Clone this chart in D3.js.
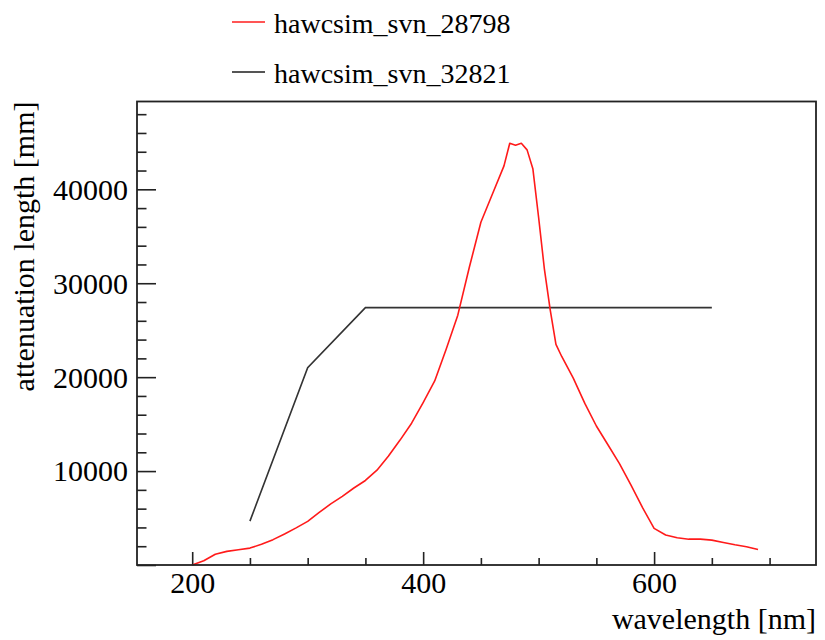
<!DOCTYPE html>
<html><head><meta charset="utf-8">
<script src="https://cdn.jsdelivr.net/npm/d3@7"></script>
<style>body{margin:0;background:#fff}svg{display:block}text{font-family:"Liberation Serif","Times New Roman",serif;fill:#000}</style>
</head><body>
<svg id="c" width="825" height="640"></svg>
<script>
const seriesNames = ["hawcsim_svn_28798", "hawcsim_svn_32821"];
const redWavelength = [200,210,220,230,240,250,260,270,280,290,300,310,320,330,340,350,360,370,380,390,400,410,420,430,440,450,460,470,475,480,485,490,495,500,505,510,515,520,530,540,550,560,570,580,590,600,610,620,630,640,650,660,670,680,690];
const redAtten = [0,450,1150,1450,1620,1800,2200,2700,3300,3950,4650,5600,6500,7300,8200,9000,10100,11600,13300,15100,17300,19600,23000,26600,31700,36500,39500,42500,44900,44700,44900,44200,42200,37000,31500,27200,23500,22200,19900,17200,14800,12800,10800,8500,6100,3900,3200,2900,2750,2750,2650,2400,2150,1950,1650];
const blackWavelength = [250,300,350,650];
const blackAtten = [4670,21000,27400,27400];
const xMajorTicks = [200,400,600];
const xMinorTicks = [250,300,350,450,500,550,650,700];
const yMajorTicks = [0,10000,20000,30000,40000];
const yMinorTicks = [2000,4000,6000,8000,12000,14000,16000,18000,22000,24000,26000,28000,32000,34000,36000,38000,42000,44000,46000,48000];
const yTickLabels = ["", "10000", "20000", "30000", "40000"];
const xLabel = "wavelength [nm]";
const yLabel = "attenuation length [mm]";

const svg = d3.select("#c");
const L = 137, R = 816, T = 101.5, B = 565;
const x = d3.scaleLinear().domain([152.2, 740.2]).range([L, R]);
const y = d3.scaleLinear().domain([0, 49350]).range([B, T]);

const fs = 30;
// axes
const gx = svg.append("g").attr("transform", `translate(0,${B})`)
  .call(d3.axisBottom(x).tickValues(xMajorTicks).tickSize(-13).tickPadding(7).tickFormat(d3.format("d")));
const gxm = svg.append("g").attr("transform", `translate(0,${B})`)
  .call(d3.axisBottom(x).tickValues(xMinorTicks).tickSize(-7).tickFormat(""));
const gy = svg.append("g").attr("transform", `translate(${L},0)`)
  .call(d3.axisLeft(y).tickValues(yMajorTicks).tickSize(-19).tickPadding(9).tickFormat((d,i)=>yTickLabels[i]));
const gym = svg.append("g").attr("transform", `translate(${L},0)`)
  .call(d3.axisLeft(y).tickValues(yMinorTicks).tickSize(-9.5).tickFormat(""));
[gx,gxm,gy,gym].forEach(g=>{
  g.select(".domain").remove();
  g.selectAll("line").attr("stroke","#222").attr("stroke-width",1.6);
  g.selectAll("text").style("font-size",fs+"px").attr("fill","#000");
});
gy.selectAll("text").attr("dy","0.33em");

// lines
const line = d3.line().x(d=>x(d[0])).y(d=>y(d[1]));
const blackData = blackWavelength.map((w,i)=>[w,blackAtten[i]]);
const redData = redWavelength.map((w,i)=>[w,redAtten[i]]);
svg.append("path").datum(blackData).attr("d",line).attr("fill","none").attr("stroke","#333").attr("stroke-width",1.6);
svg.append("path").datum(redData).attr("d",line).attr("fill","none").attr("stroke","#ff1a1a").attr("stroke-width",1.6).attr("stroke-linejoin","round");

// frame
svg.append("rect").attr("x",L).attr("y",T).attr("width",R-L).attr("height",B-T)
  .attr("fill","none").attr("stroke","#222").attr("stroke-width",1.8);

// axis titles
svg.append("text").attr("x",R).attr("y",629).attr("text-anchor","end").style("font-size",fs+"px").text(xLabel);
svg.append("text").attr("transform",`translate(34,${T}) rotate(-90)`).attr("text-anchor","end").style("font-size",fs+"px").text(yLabel);

// legend
const legColors = ["#ff5555","#555"];
const legY = [22, 72];
seriesNames.forEach((n,i)=>{
  svg.append("line").attr("x1",232).attr("x2",265).attr("y1",legY[i]).attr("y2",legY[i])
    .attr("stroke",legColors[i]).attr("stroke-width",1.8);
  svg.append("text").attr("x",274).attr("y",legY[i]+11).style("font-size","28px").text(n);
});
</script>
</body></html>
